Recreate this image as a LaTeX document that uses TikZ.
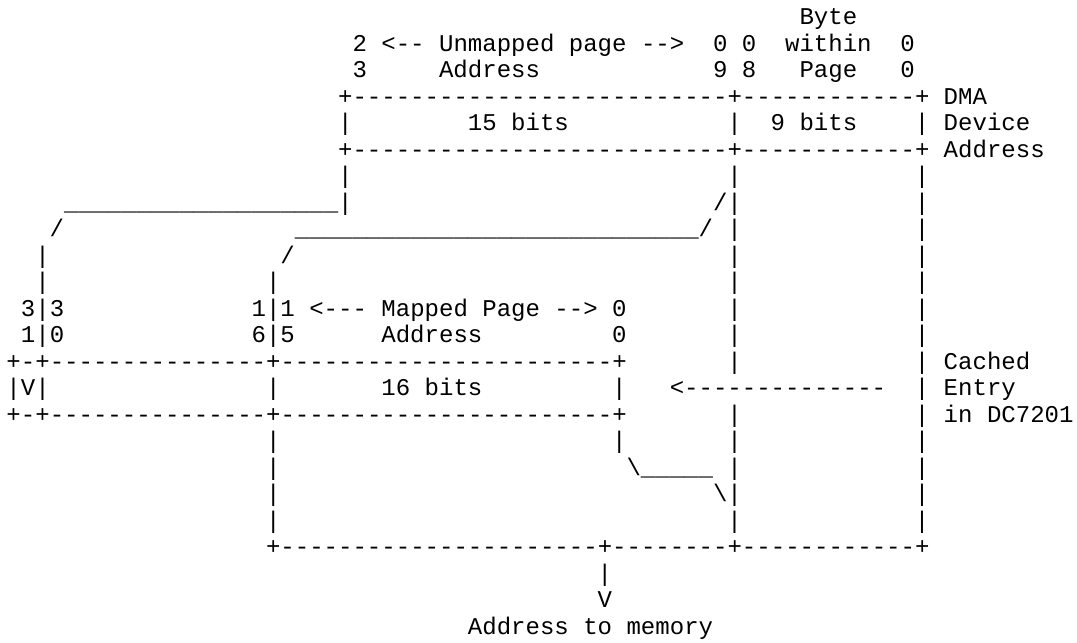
\documentclass[tikz,border=0pt]{standalone}
\usepackage{fontspec}
\usepackage{tikz}
\newfontfamily\asciifont{Liberation Mono}
\ExplSyntaxOn
\NewDocumentCommand\rep{mm}{\prg_replicate:nn{#1}{#2}}
\ExplSyntaxOff
\tikzset{
  ch/.style={font=\asciifont\fontsize{12.02}{13.25}\selectfont,inner sep=0pt,anchor=base west}
}

\begin{document}
\begin{tikzpicture}[x=7.21pt,y=-13.25pt]
\useasboundingbox[fill=white] (-0.922,-0.642) rectangle (73.77,23.62);
\begin{scope}[shift={(-0.5,0.29)}]
\node[ch] (byte) at (55,0) {Byte};
\node[ch] (unmap) at (24,1) {2 <-- Unmapped page -->};
\node[ch] (hibits) at (49,1) {0 0};
\node[ch] (within) at (54,1) {within};
\node[ch] (lobit) at (62,1) {0};
\node[ch] (hitop) at (24,2) {3};
\node[ch] (unaddr) at (30,2) {Address};
\node[ch] (midbits) at (49,2) {9 8};
\node[ch] (page) at (55,2) {Page};
\node[ch] (lobitb) at (62,2) {0};
\node[ch] (dmatop) at (23,3) {+\rep{26}{-}+\rep{12}{-}+};
\node[ch] (dma) at (65,3) {DMA};
\node[ch] (fifteen) at (32,4) {15 bits};
\node[ch] (nine) at (53,4) {9 bits};
\node[ch] (device) at (65,4) {Device};
\node[ch] (dmabot) at (23,5) {+\rep{26}{-}+\rep{12}{-}+};
\node[ch] (daddr) at (65,5) {Address};
\foreach \r in {4,6}{\node[ch] (l\r) at (23,\r) {|};}
\foreach \r in {4,6,7,8,9,10,11,12,13,15,16,17,18,19}{\node[ch] (m\r) at (50,\r) {|};}
\foreach \r in {4,6,7,8,9,10,11,12,13,14,15,16,17,18,19}{\node[ch] (r\r) at (63,\r) {|};}
\node[ch] (upline) at (4,7) {\rep{19}{\_}|};
\node[ch] (upslant) at (49,7) {/};
\node[ch] (vslant) at (3,8) {/};
\node[ch] (pgline) at (20,8) {\rep{28}{\_}/};
\node[ch] (vbar) at (2,9) {|};
\node[ch] (pgslant) at (19,9) {/};
\node[ch] (vbarb) at (2,10) {|};
\node[ch] (pgbar) at (18,10) {|};
\node[ch] (vbits) at (1,11) {3|3};
\node[ch] (mapped) at (17,11) {1|1 <--- Mapped Page --> 0};
\node[ch] (vbitsb) at (1,12) {1|0};
\node[ch] (mbits) at (17,12) {6|5};
\node[ch] (maddr) at (26,12) {Address};
\node[ch] (mzero) at (42,12) {0};
\node[ch] (cachetop) at (0,13) {+-+\rep{15}{-}+\rep{23}{-}+};
\node[ch] (cached) at (65,13) {Cached};
\node[ch] (valid) at (0,14) {|V|};
\node[ch] (sep) at (18,14) {|};
\node[ch] (sixteen) at (26,14) {16 bits};
\node[ch] (sepb) at (42,14) {|};
\node[ch] (fill) at (46,14) {<\rep{14}{-}};
\node[ch] (entry) at (65,14) {Entry};
\node[ch] (cachebot) at (0,15) {+-+\rep{15}{-}+\rep{23}{-}+};
\node[ch] (chip) at (65,15) {in DC7201};
\foreach \r in {16,...,19}{\node[ch] (p\r) at (18,\r) {|};}
\node[ch] (lowbar) at (42,16) {|};
\node[ch] (lowline) at (43,17) {\textbackslash\rep{5}{\_}};
\node[ch] (lowslant) at (49,18) {\textbackslash};
\node[ch] (outbox) at (18,20) {+\rep{22}{-}+\rep{8}{-}+\rep{12}{-}+};
\node[ch] (outbar) at (41,21) {|};
\node[ch] (outtip) at (41,22) {V};
\node[ch] (memory) at (32,23) {Address to memory};
\end{scope}
\end{tikzpicture}
\end{document}
